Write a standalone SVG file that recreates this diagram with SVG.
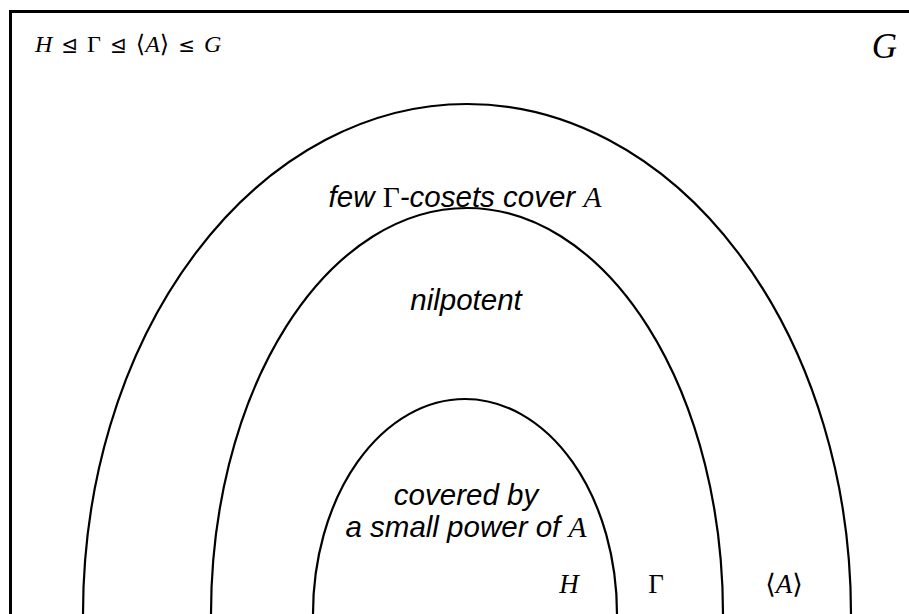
<svg xmlns="http://www.w3.org/2000/svg" width="909" height="614" viewBox="0 0 909 614">
  <style>
    .arc { fill: none; stroke: #000; stroke-width: 2.2; }
    .frame { fill: none; stroke: #000; stroke-width: 3; }
    .lbl { font-family: "Liberation Sans", "DejaVu Sans", sans-serif; font-style: italic; font-size: 29.5px; fill: #000; }
    .m { font-family: "Liberation Serif", "DejaVu Serif", serif; font-style: normal; }
    .mi { font-family: "Liberation Serif", "DejaVu Serif", serif; font-style: italic; }
    .math { font-family: "Liberation Serif", "DejaVu Serif", serif; fill: #000; }
    .rel { font-family: "DejaVu Sans", sans-serif; font-style: normal; }
  </style>
  <rect x="0" y="0" width="909" height="614" fill="#fff"/>
  <g id="frame">
    <path class="frame" d="M10.5,614 V11.5 H909"/>
    <text class="math" x="35" y="52" font-size="24" word-spacing="3"><tspan font-style="italic">H</tspan> <tspan class="rel" font-size="20">⊴</tspan> Γ <tspan class="rel" font-size="20">⊴</tspan> ⟨<tspan font-style="italic">A</tspan>⟩ <tspan class="rel" font-size="20">≤</tspan> <tspan font-style="italic">G</tspan></text>
    <text class="math" x="897" y="58" font-size="35" font-style="italic" text-anchor="end">G</text>
  </g>
  <g id="outer">
    <path class="arc" d="M83,614 A384,510 0 0 1 851,614"/>
    <text class="lbl" x="465" y="207" text-anchor="middle">few <tspan class="m">Γ</tspan>-cosets cover <tspan class="mi">A</tspan></text>
    <text class="math" x="784" y="593" font-size="27" text-anchor="middle">⟨<tspan font-style="italic">A</tspan>⟩</text>
  </g>
  <g id="middle">
    <path class="arc" d="M211,614 A256,406 0 0 1 723,614"/>
    <text class="lbl" x="466" y="310" text-anchor="middle">nilpotent</text>
    <text class="math" x="656" y="593" font-size="27" text-anchor="middle">Γ</text>
  </g>
  <g id="inner">
    <path class="arc" d="M313,614 A152,215 0 0 1 617,614"/>
    <text class="lbl" x="466" y="505" text-anchor="middle">covered by</text>
    <text class="lbl" x="466" y="537" text-anchor="middle">a small power of <tspan class="mi">A</tspan></text>
    <text class="math" x="569" y="593" font-size="27" font-style="italic" text-anchor="middle">H</text>
  </g>
</svg>
